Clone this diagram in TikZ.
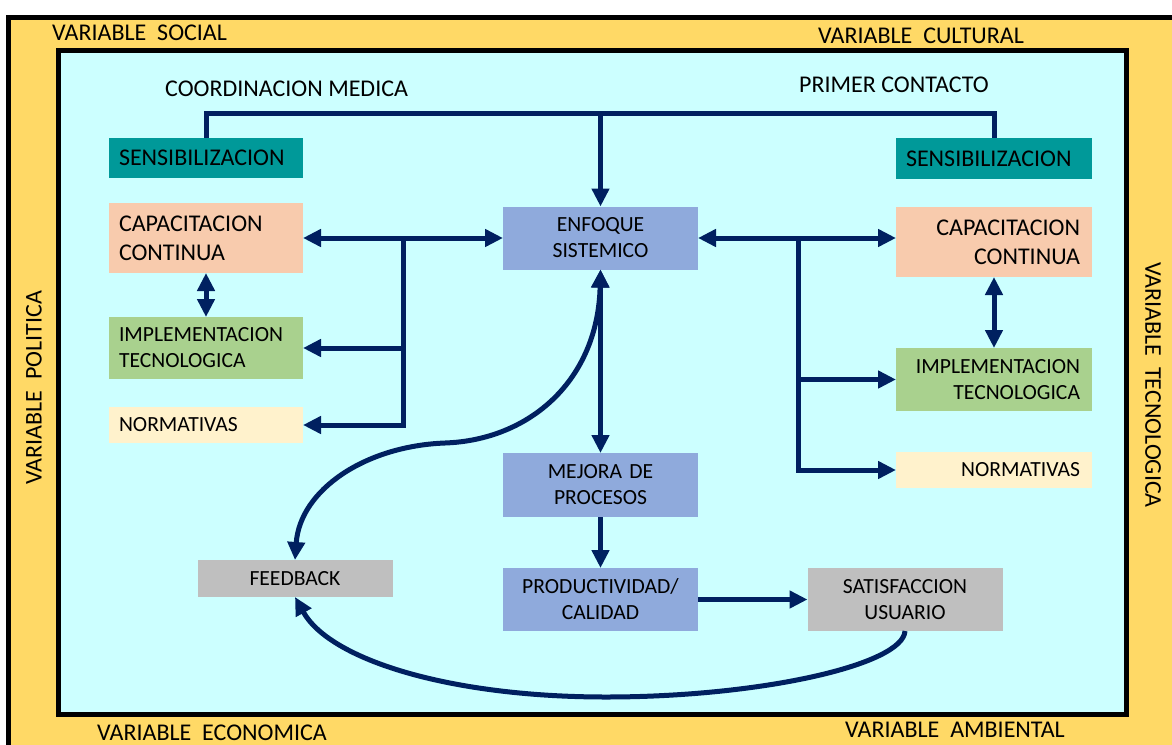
\documentclass[tikz,border=0pt]{standalone}
\usepackage{fontspec}
\setmainfont{Carlito}
\usetikzlibrary{arrows.meta}
\definecolor{ybg}{HTML}{FFD966}
\definecolor{cbg}{HTML}{CCFFFF}
\definecolor{tealbox}{HTML}{009999}
\definecolor{peach}{HTML}{F8CBAD}
\definecolor{greenbox}{HTML}{A9D18E}
\definecolor{cream}{HTML}{FFF2CC}
\definecolor{bluebox}{HTML}{8FAADC}
\definecolor{graybox}{HTML}{BFBFBF}
\definecolor{navy}{HTML}{002060}
\newcommand{\bigf}{\fontsize{24}{29.3}\selectfont}
\newcommand{\smallf}{\fontsize{21.6}{26}\selectfont}
\begin{document}
\begin{tikzpicture}[x=1pt,y=-1pt,
  base/.style={rectangle, inner ysep=0pt, outer sep=0pt, text=black},
  lbox/.style={base, inner xsep=10pt, text width=174pt, align=left},
  rbox/.style={base, inner xsep=12pt, text width=172pt, align=right},
  cbox/.style={base, inner xsep=0pt, text width=195pt, align=center},
  lab/.style={inner sep=0pt, font=\bigf, text=black},
  conn/.style={navy, line width=5pt},
  tip/.style={-{Triangle[length=18pt,width=17pt]}},
  dtip/.style={{Triangle[length=18pt,width=17pt]}-{Triangle[length=18pt,width=17pt]}}
]
\useasboundingbox (0,0) rectangle (1172,744);
\fill[white] (0,0) rectangle (1172,744);
\begin{scope}
  \clip (0,0) rectangle (1172,744);
  \draw[line width=5pt, fill=ybg] (8,17.5) rectangle (1190,760);
\end{scope}
\draw[line width=5pt, fill=cbg] (58,50.5) rectangle (1126.5,714.5);

% outer labels
\node[lab, anchor=base west] (vsoc) at (52,40) {VARIABLE\ \ SOCIAL};
\node[lab, anchor=base west] (vcul) at (818,43) {VARIABLE\ \ CULTURAL};
\node[lab, anchor=base west] (veco) at (97,740) {VARIABLE\ \ ECONOMICA};
\node[lab, anchor=base west] (vamb) at (845,737) {VARIABLE\ \ AMBIENTAL};
\node[lab, rotate=90] (vpol) at (34,388) {VARIABLE\ \ POLITICA};
\node[lab, rotate=-90] (vtec) at (1153,385) {VARIABLE\ \ TECNOLOGICA};

% inner labels
\node[lab, anchor=base west] (coord) at (165,96) {COORDINACION MEDICA};
\node[lab, anchor=base west] (prim) at (799,92) {PRIMER CONTACTO};

% boxes
\node[lbox, fill=tealbox, minimum height=40pt, font=\bigf] (sensL) at (206,158) {SENSIBILIZACION};
\node[lbox, fill=tealbox, minimum height=41pt, font=\bigf, text width=176pt] (sensR) at (994,158.5) {SENSIBILIZACION};
\node[lbox, fill=peach, minimum height=70pt, font=\bigf] (capL) at (206,238) {CAPACITACION\\CONTINUA};
\node[lbox, fill=greenbox, minimum height=62pt, font=\smallf] (impL) at (206,348) {IMPLEMENTACION\\TECNOLOGICA};
\node[lbox, fill=cream, minimum height=36pt, font=\smallf] (normL) at (206,425) {NORMATIVAS};

\node[cbox, fill=bluebox, minimum height=63pt, font=\smallf] (enf) at (600.5,238) {ENFOQUE\\SISTEMICO};
\node[cbox, fill=bluebox, minimum height=64pt, font=\smallf] (mej) at (600.5,485) {MEJORA DE\\PROCESOS};
\node[cbox, fill=bluebox, minimum height=63pt, font=\smallf] (prod) at (600.5,599.5) {PRODUCTIVIDAD/\\CALIDAD};

\node[rbox, fill=peach, minimum height=70pt, font=\bigf] (capR) at (994,242) {CAPACITACION\\CONTINUA};
\node[rbox, fill=greenbox, minimum height=63pt, font=\smallf] (impR) at (994,379.5) {IMPLEMENTACION\\TECNOLOGICA};
\node[rbox, fill=cream, minimum height=36pt, font=\smallf] (normR) at (994,470) {NORMATIVAS};

\node[cbox, fill=graybox, minimum height=37pt, font=\smallf] (feed) at (295,578.5) {FEEDBACK};
\node[cbox, fill=graybox, minimum height=63pt, font=\smallf] (sat) at (905,599.5) {SATISFACCION\\USUARIO};

% junction coordinates
\coordinate (top) at (600.5,113);
\coordinate (jL) at (403,238);
\coordinate (jR) at (798,238);

% top connector
\draw[conn, line join=miter] (sensL.north) |- (top) -| (sensR.north);
\draw[conn, tip] (top) -- (enf.north);

% left group
\draw[conn, dtip] (capL.east) -- (enf.west);
\draw[conn, tip] (jL) |- (normL.east);
\draw[conn, tip] (jL |- impL.east) -- (impL.east);
\draw[conn, dtip] (capL.south) -- (impL.north);

% right group
\draw[conn, dtip] (enf.east) -- (enf.east -| capR.west);
\draw[conn, tip] (jR) |- (normR.west);
\draw[conn, tip] (jR |- impR.west) -- (impR.west);
\draw[conn, dtip] (capR.south) -- (impR.north);

% center column
\draw[conn, dtip] (enf.south) -- (mej.north);
\draw[conn, tip] (mej.south) -- (prod.north);
\draw[conn, tip] (prod.east) -- (sat.west);

% curves
\draw[conn, dtip] (enf.south) .. controls (598,380) and (530,440) .. (445,443)
  .. controls (365,446) and (300,490) .. (feed.north);
\draw[conn, tip] (sat.south) .. controls (903,665) and (760,697) .. (606,697)
  .. controls (450,697) and (330,660) .. (feed.south);
\end{tikzpicture}
\end{document}
